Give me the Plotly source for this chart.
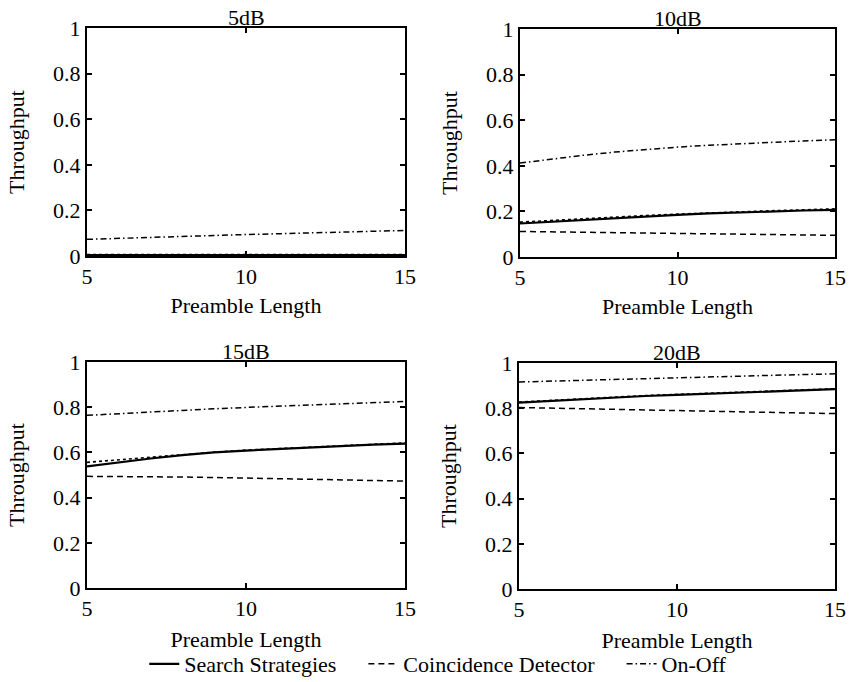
import plotly.graph_objects as go

preamble = [5, 6, 7, 8, 9, 10, 11, 12, 13, 14, 15]
panels = ["5dB", "10dB", "15dB", "20dB"]

search_solid = {
    "5dB":  [0.004, 0.004, 0.004, 0.004, 0.004, 0.004, 0.004, 0.004, 0.004, 0.004, 0.004],
    "10dB": [0.147, 0.155, 0.163, 0.171, 0.178, 0.185, 0.191, 0.196, 0.200, 0.204, 0.207],
    "15dB": [0.538, 0.556, 0.573, 0.588, 0.600, 0.608, 0.615, 0.622, 0.628, 0.634, 0.639],
    "20dB": [0.825, 0.833, 0.841, 0.848, 0.854, 0.859, 0.864, 0.869, 0.874, 0.879, 0.884],
}
search_dotted = {
    "5dB":  [0.006, 0.006, 0.006, 0.006, 0.006, 0.006, 0.006, 0.006, 0.006, 0.006, 0.006],
    "10dB": [0.153, 0.161, 0.168, 0.175, 0.182, 0.188, 0.194, 0.199, 0.203, 0.207, 0.211],
    "15dB": [0.556, 0.568, 0.580, 0.591, 0.601, 0.610, 0.617, 0.624, 0.631, 0.637, 0.642],
    "20dB": [0.827, 0.835, 0.843, 0.850, 0.856, 0.861, 0.866, 0.871, 0.876, 0.881, 0.886],
}
coincidence = {
    "5dB":  [0.001, 0.001, 0.001, 0.001, 0.001, 0.001, 0.001, 0.001, 0.001, 0.001, 0.001],
    "10dB": [0.112, 0.110, 0.108, 0.106, 0.104, 0.102, 0.100, 0.099, 0.097, 0.096, 0.095],
    "15dB": [0.494, 0.494, 0.493, 0.491, 0.489, 0.486, 0.483, 0.480, 0.478, 0.475, 0.473],
    "20dB": [0.803, 0.800, 0.797, 0.794, 0.791, 0.789, 0.787, 0.784, 0.782, 0.779, 0.776],
}
onoff = {
    "5dB":  [0.073, 0.078, 0.082, 0.086, 0.090, 0.094, 0.098, 0.102, 0.105, 0.109, 0.112],
    "10dB": [0.412, 0.430, 0.446, 0.460, 0.472, 0.482, 0.490, 0.497, 0.503, 0.509, 0.514],
    "15dB": [0.764, 0.772, 0.780, 0.787, 0.793, 0.799, 0.804, 0.809, 0.814, 0.820, 0.825],
    "20dB": [0.916, 0.920, 0.924, 0.928, 0.932, 0.935, 0.938, 0.942, 0.945, 0.949, 0.952],
}

x_ticks = [5, 10, 15]
y_ticks = [0, 0.2, 0.4, 0.6, 0.8, 1]
y_tick_text = ["0", "0.2", "0.4", "0.6", "0.8", "1"]

W, H = 851, 682
FONT = "Liberation Serif"
FS = 22
PAD = "\u00a0" * 4

# pixel boxes: (left, right, top, bottom)
boxes = [(87, 405, 28, 256), (520, 835, 29, 257), (87, 405, 362, 588), (519, 835, 363, 589)]

fig = go.Figure()
layout = dict(
    width=W, height=H,
    margin=dict(l=0, r=0, t=0, b=0, autoexpand=False),
    paper_bgcolor="white", plot_bgcolor="white",
    font=dict(family=FONT, color="black", size=FS),
    showlegend=True,
    legend=dict(orientation="h", x=0.515, xanchor="center", y=1 - 664 / H, yanchor="middle",
                font=dict(family=FONT, size=FS, color="black"), itemwidth=30,
                tracegroupgap=0, bgcolor="rgba(0,0,0,0)"),
)

annotations = []
for i, (p, (l, r, t, b)) in enumerate(zip(panels, boxes)):
    n = "" if i == 0 else str(i + 1)
    xa, ya = "x" + n, "y" + n
    first = i == 0
    fig.add_trace(go.Scatter(x=preamble, y=search_dotted[p], mode="lines", xaxis=xa, yaxis=ya,
                             line=dict(color="black", width=1.6, dash="dot"),
                             name="Search Strategies" + PAD, legendgroup="s", showlegend=False))
    fig.add_trace(go.Scatter(x=preamble, y=search_solid[p], mode="lines", xaxis=xa, yaxis=ya,
                             line=dict(color="black", width=2.2),
                             name="Search Strategies" + PAD, legendgroup="s", showlegend=first))
    fig.add_trace(go.Scatter(x=preamble, y=coincidence[p], mode="lines", xaxis=xa, yaxis=ya,
                             line=dict(color="black", width=1.5, dash="6px,4px"),
                             name="Coincidence Detector" + PAD, legendgroup="c", showlegend=first))
    fig.add_trace(go.Scatter(x=preamble, y=onoff[p], mode="lines", xaxis=xa, yaxis=ya,
                             line=dict(color="black", width=1.5, dash="6px,3px,1.5px,3px"),
                             name="On-Off", legendgroup="o", showlegend=first))
    common = dict(showline=True, linecolor="black", linewidth=2, mirror="ticks",
                  ticks="inside", ticklen=5, tickwidth=1.5, tickcolor="black",
                  showgrid=False, zeroline=False, automargin=False,
                  tickfont=dict(family=FONT, size=FS, color="black"))
    layout["xaxis" + n] = dict(domain=[l / W, r / W], anchor=ya, range=[5, 15],
                               tickvals=x_ticks, ticktext=[str(v) for v in x_ticks],
                               title=dict(text="Preamble Length", standoff=9 if i < 2 else 11,
                                          font=dict(family=FONT, size=FS, color="black")),
                               **common)
    layout["yaxis" + n] = dict(domain=[1 - b / H, 1 - t / H], anchor=xa, range=[0, 1],
                               tickvals=y_ticks, ticktext=y_tick_text,
                               title=dict(text="Throughput", standoff=22,
                                          font=dict(family=FONT, size=FS, color="black")),
                               **common)
    annotations.append(dict(text=p, x=(l + r) / 2 / W, y=1 - t / H, xref="paper", yref="paper",
                            xanchor="center", yanchor="bottom", showarrow=False, yshift=-4,
                            font=dict(family=FONT, size=FS, color="black")))

layout["annotations"] = annotations
fig.update_layout(**layout)
fig.write_html("out.html", config={"displayModeBar": False},
               post_script="document.body.style.margin='0';document.body.style.overflow='hidden';")
